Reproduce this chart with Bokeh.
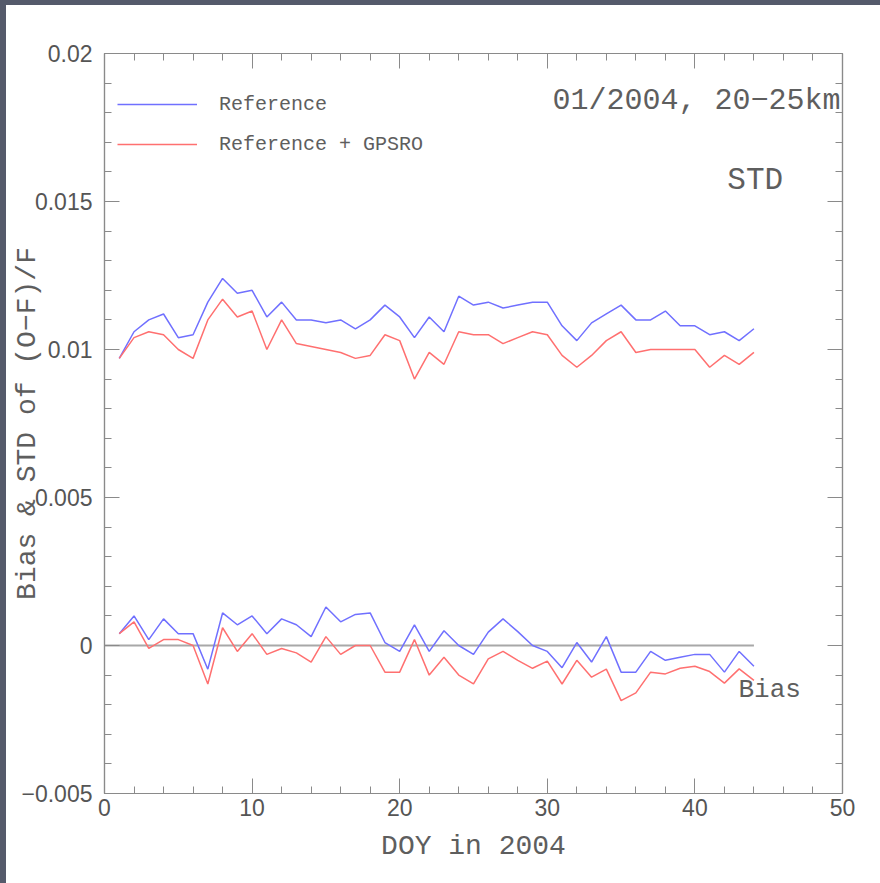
import numpy as np
from bokeh.plotting import figure
from bokeh.layouts import row, column
from bokeh.models import (ColumnDataSource, Label, LinearAxis, FixedTicker, Legend,
                          LegendItem, Range1d, Spacer)
from bokeh.embed import file_html
from bokeh.resources import INLINE

# ---------------- data ----------------
days = list(range(1, 45))
std_ref = [0.0097, 0.0106, 0.0110, 0.0112, 0.0104, 0.0105, 0.0116, 0.0124, 0.0119, 0.0120,
           0.0111, 0.0116, 0.0110, 0.0110, 0.0109, 0.0110, 0.0107, 0.0110, 0.0115, 0.0111,
           0.0104, 0.0111, 0.0106, 0.0118, 0.0115, 0.0116, 0.0114, 0.0115, 0.0116, 0.0116,
           0.0108, 0.0103, 0.0109, 0.0112, 0.0115, 0.0110, 0.0110, 0.0113, 0.0108, 0.0108,
           0.0105, 0.0106, 0.0103, 0.0107]
std_gps = [0.0097, 0.0104, 0.0106, 0.0105, 0.0100, 0.0097, 0.0110, 0.0117, 0.0111, 0.0113,
           0.0100, 0.0110, 0.0102, 0.0101, 0.0100, 0.0099, 0.0097, 0.0098, 0.0105, 0.0103,
           0.0090, 0.0099, 0.0095, 0.0106, 0.0105, 0.0105, 0.0102, 0.0104, 0.0106, 0.0105,
           0.0098, 0.0094, 0.0098, 0.0103, 0.0106, 0.0099, 0.0100, 0.0100, 0.0100, 0.0100,
           0.0094, 0.0098, 0.0095, 0.0099]
bias_ref = [0.0004, 0.0010, 0.0002, 0.0009, 0.0004, 0.0004, -0.0008, 0.0011, 0.0007, 0.0010,
            0.0004, 0.0009, 0.0007, 0.0003, 0.0013, 0.0008, 0.00105, 0.0011, 0.0001, -0.0002,
            0.0007, -0.0002, 0.0005, 0.0000, -0.0003, 0.00045, 0.0009, 0.00047, 0.0000, -0.0002,
            -0.00075, 0.0001, -0.00056, 0.0003, -0.0009, -0.0009, -0.0002, -0.0005, -0.0004, -0.0003,
            -0.0003, -0.0009, -0.0002, -0.0007]
bias_gps = [0.0004, 0.0008, -0.0001, 0.0002, 0.0002, 0.0000, -0.0013, 0.0006, -0.0002, 0.0004,
            -0.0003, -0.0001, -0.00025, -0.00056, 0.0003, -0.0003, 0.0000, 0.0000, -0.0009, -0.0009,
            0.0002, -0.0010, -0.0004, -0.0010, -0.0013, -0.00045, -0.0002, -0.0005, -0.00077, -0.00053,
            -0.0013, -0.0005, -0.00107, -0.0008, -0.00186, -0.0016, -0.0009, -0.00096, -0.00077, -0.0007,
            -0.00088, -0.00127, -0.00079, -0.00118]

x_ticks = [0, 10, 20, 30, 40, 50]
x_minor = list(range(0, 51, 2))
y_ticks = [-0.005, 0.0, 0.005, 0.01, 0.015, 0.02]
y_tick_labels = ["\u22120.005", "0", "0.005", "0.01", "0.015", "0.02"]
y_minor = [round(-0.005 + 0.001 * i, 3) for i in range(26)]

legend_labels = ["Reference", "Reference + GPSRO"]
title_text = "01/2004, 20\u221225km"
x_title = "DOY in 2004"
y_title = "Bias & STD of (O\u2212F)/F"

# ---------------- styling ----------------
BLUE = "#7070ff"
RED = "#ff7070"
FRAME = "#8a8a8a"
TXT = "#5e5e5e"
TICKTXT = "#555555"
SLIDE = "#555a6b"
MONO = "Liberation Mono"
SANS = "Liberation Sans"

p = figure(width=874, height=878, x_range=Range1d(0, 50), y_range=Range1d(-0.005, 0.02),
           output_backend="svg", toolbar_location=None,
           min_border_left=98, min_border_right=38, min_border_top=48, min_border_bottom=90,
           background_fill_color="white", border_fill_color="white",
           outline_line_color=FRAME, outline_line_width=1.2)
p.xgrid.visible = False
p.ygrid.visible = False


def style_axis(ax, labels=True):
    ax.major_tick_in = 15
    ax.major_tick_out = 0
    ax.minor_tick_in = 7
    ax.minor_tick_out = 0
    ax.axis_line_color = FRAME
    ax.axis_line_width = 1.2
    ax.major_tick_line_color = FRAME
    ax.minor_tick_line_color = FRAME
    ax.major_label_text_font = SANS
    ax.major_label_text_font_size = "23px"
    ax.major_label_text_color = TICKTXT
    ax.axis_label_text_font = MONO
    ax.axis_label_text_font_size = "28px"
    ax.axis_label_text_font_style = "normal"
    ax.axis_label_text_color = TXT
    if not labels:
        ax.major_label_text_color = None
        ax.major_label_standoff = 0


xt = FixedTicker(ticks=x_ticks, minor_ticks=x_minor)
yt = FixedTicker(ticks=y_ticks, minor_ticks=y_minor)

xa = p.xaxis[0]
ya = p.yaxis[0]
xa.ticker = xt
ya.ticker = yt
ya.major_label_overrides = {t: l for t, l in zip(y_ticks, y_tick_labels)}
style_axis(xa)
style_axis(ya)
xa.major_label_standoff = 5
ya.major_label_standoff = 12
xa.axis_label = x_title
xa.axis_label_standoff = 12
ya.axis_label = y_title
ya.axis_label_standoff = -24

top_ax = LinearAxis(ticker=FixedTicker(ticks=x_ticks, minor_ticks=x_minor))
right_ax = LinearAxis(ticker=FixedTicker(ticks=y_ticks, minor_ticks=y_minor))
style_axis(top_ax, labels=False)
style_axis(right_ax, labels=False)
p.add_layout(top_ax, "above")
p.add_layout(right_ax, "right")

# zero line
p.segment(x0=[0], x1=[max(days)], y0=[0], y1=[0], line_color="#a8a8a8", line_width=2)

src = ColumnDataSource(dict(day=days, std_ref=std_ref, std_gps=std_gps,
                            bias_ref=bias_ref, bias_gps=bias_gps))
r1 = p.line("day", "std_ref", source=src, line_color=BLUE, line_width=1.5)
r2 = p.line("day", "std_gps", source=src, line_color=RED, line_width=1.5)
r3 = p.line("day", "bias_ref", source=src, line_color=BLUE, line_width=1.5)
r4 = p.line("day", "bias_gps", source=src, line_color=RED, line_width=1.5)

legend = Legend(items=[LegendItem(label=legend_labels[0], renderers=[r1]),
                       LegendItem(label=legend_labels[1], renderers=[r2])],
                location=(13, 629), padding=0, margin=0, spacing=0,
                glyph_width=80, glyph_height=40, label_height=40, label_standoff=22,
                border_line_color=None, background_fill_alpha=0,
                label_text_font=MONO, label_text_font_size="20px", label_text_color=TXT)
p.add_layout(legend)

p.add_layout(Label(x=49.86, y=0.01841, text=title_text, text_align="right",
                   text_baseline="middle", text_font=MONO, text_font_size="30px",
                   text_color=TXT))
p.add_layout(Label(x=42.2, y=0.01571, text="STD", text_align="left",
                   text_baseline="middle", text_font=MONO, text_font_size="31px",
                   text_color=TXT))
p.add_layout(Label(x=42.95, y=-0.00152, text="Bias", text_align="left",
                   text_baseline="middle", text_font=MONO, text_font_size="26px",
                   text_color=TXT))

# dark slide border strips around the white panel
left_strip = Spacer(width=6, height=883, styles={"background-color": SLIDE})
top_strip = Spacer(width=874, height=5, styles={"background-color": SLIDE})
layout = row(left_strip, column(top_strip, p, spacing=0), spacing=0)

open("out.html", "w").write(file_html(layout, INLINE))
